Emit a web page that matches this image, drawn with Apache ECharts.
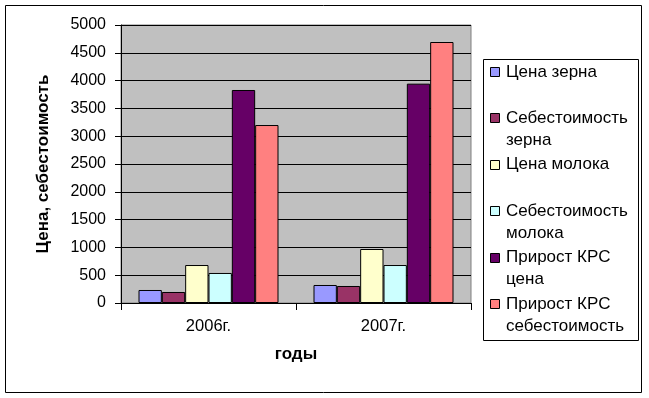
<!DOCTYPE html>
<html>
<head>
<meta charset="utf-8">
<script src="https://cdn.jsdelivr.net/npm/echarts@6/dist/echarts.min.js"></script>
<style>
html,body{margin:0;padding:0;background:#fff;}
#c{width:649px;height:398px;}
</style>
</head>
<body>
<div id="c"></div>
<script>
const categories = ['2006г.', '2007г.'];
const seriesNames = ['Цена зерна', 'Себестоимость зерна', 'Цена молока', 'Себестоимость молока', 'Прирост КРС цена', 'Прирост КРС себестоимость'];
const legendLines = [['Цена зерна'], ['Себестоимость', 'зерна'], ['Цена молока'], ['Себестоимость', 'молока'], ['Прирост КРС', 'цена'], ['Прирост КРС', 'себестоимость']];
const grainPrice = [234, 324];
const grainCost = [198, 306];
const milkPrice = [683, 971];
const milkCost = [540, 683];
const cattlePrice = [3831, 3945];
const cattleCost = [3201, 4694];
const seriesValues = [grainPrice, grainCost, milkPrice, milkCost, cattlePrice, cattleCost];
const colors = ['#9999FF', '#993366', '#FFFFCC', '#CCFFFF', '#660066', '#FF8080'];
const yTicks = [0, 500, 1000, 1500, 2000, 2500, 3000, 3500, 4000, 4500, 5000];
const yTitle = 'Цена, себестоимость';
const xTitle = 'годы';

const FONT = 'Liberation Sans, Arial, sans-serif';
const chart = echarts.init(document.getElementById('c'), null, {renderer: 'canvas'});

const graphics = [
  {type: 'rect', shape: {x: 5.5, y: 5.5, width: 636, height: 387}, style: {fill: 'none', stroke: '#000', lineWidth: 1}, silent: true},
  {type: 'rect', shape: {x: 483.5, y: 59.5, width: 155, height: 281}, style: {fill: '#fff', stroke: '#000', lineWidth: 1}, silent: true}
];
legendLines.forEach((lines, i) => {
  const cy = 72 + i * 46.4;
  graphics.push({type: 'rect', shape: {x: 490.5, y: Math.round(cy - 5) + 0.5, width: 9, height: 9}, style: {fill: colors[i], stroke: '#000', lineWidth: 1}, silent: true});
  lines.forEach((t, j) => {
    graphics.push({type: 'text', x: 506, y: cy + j * 22, style: {text: t, fill: '#000', font: '17px ' + FONT, textVerticalAlign: 'middle', verticalAlign: 'middle'}, silent: true});
  });
});

chart.setOption({
  animation: false,
  backgroundColor: '#fff',
  grid: {left: 121, right: 178, top: 25, bottom: 95, show: true, backgroundColor: '#C0C0C0', borderColor: '#808080', borderWidth: 1},
  xAxis: {
    type: 'category',
    data: categories,
    name: xTitle,
    nameLocation: 'middle',
    nameGap: 43,
    nameTextStyle: {fontFamily: FONT, fontSize: 17, fontWeight: 'bold', color: '#000'},
    axisLine: {lineStyle: {color: '#000', width: 1}},
    axisTick: {show: true, length: 7, lineStyle: {color: '#000'}},
    axisLabel: {fontFamily: FONT, fontSize: 16.5, color: '#000', margin: 15}
  },
  yAxis: {
    type: 'value',
    min: 0,
    max: 5000,
    interval: 500,
    name: yTitle,
    nameLocation: 'middle',
    nameRotate: 90,
    nameGap: 69,
    nameTextStyle: {fontFamily: FONT, fontSize: 17, fontWeight: 'bold', color: '#000'},
    axisLine: {show: true, lineStyle: {color: '#000', width: 1}},
    axisTick: {show: true, length: 6, lineStyle: {color: '#000'}},
    axisLabel: {fontFamily: FONT, fontSize: 16, color: '#000', margin: 15,
      formatter: v => yTicks.includes(v) ? String(v) : ''},
    splitLine: {show: true, lineStyle: {color: '#000', width: 1}}
  },
  series: seriesNames.map((name, i) => ({
    name: name,
    type: 'bar',
    data: seriesValues[i],
    barGap: '0%',
    barCategoryGap: '20%',
    itemStyle: {color: colors[i], borderColor: '#000', borderWidth: 1}
  })),
  graphic: graphics
});
</script>
</body>
</html>
